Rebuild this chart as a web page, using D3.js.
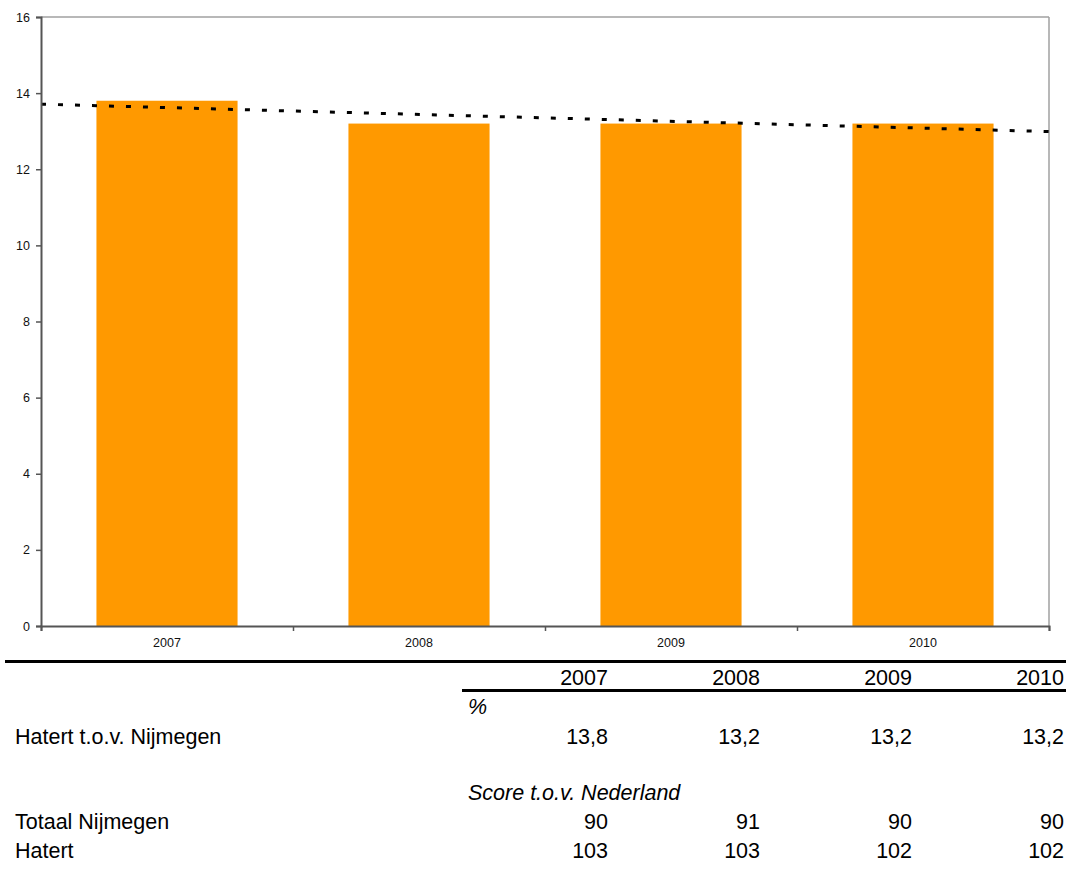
<!DOCTYPE html>
<html><head><meta charset="utf-8">
<script src="https://cdn.jsdelivr.net/npm/d3@7"></script>
<style>
body{margin:0;background:#fff;font-family:"Liberation Sans",Arial,sans-serif;}
svg{display:block;}
</style></head>
<body>
<svg id="c" width="1066" height="889"></svg>
<script>
const years = ["2007","2008","2009","2010"];
const values = [13.8,13.2,13.2,13.2];
const yTicks = [0,2,4,6,8,10,12,14,16];
const rowLabels = ["Hatert t.o.v. Nijmegen","Totaal Nijmegen","Hatert"];
const pctRow = ["13,8","13,2","13,2","13,2"];
const totaalRow = ["90","91","90","90"];
const hatertRow = ["103","103","102","102"];

const svg = d3.select("#c");
const m = {l:41, r:1049, t:17, b:626};
const x = d3.scaleBand().domain(years).range([m.l, m.r]).paddingInner(0.44).paddingOuter(0.22);
const xb = d3.scaleLinear().domain([0.5, 4.5]).range([m.l, m.r]);
const y = d3.scaleLinear().domain([0,16]).range([m.b, m.t]);

// border top/right
svg.append("line").attr("x1",m.l).attr("x2",m.r).attr("y1",m.t).attr("y2",m.t).attr("stroke","#a0a0a0").attr("stroke-width",1.5);
svg.append("line").attr("x1",m.r).attr("x2",m.r).attr("y1",m.t).attr("y2",m.b).attr("stroke","#a0a0a0").attr("stroke-width",1.5);

// bars
svg.selectAll("rect.bar").data(values).join("rect").attr("class","bar")
  .attr("x",(d,i)=>x(years[i])).attr("width",x.bandwidth())
  .attr("y",d=>y(d)).attr("height",d=>y(0)-y(d)).attr("fill","#FF9900");

// trend line (linear regression of values)
const xs = values.map((d,i)=>i+1);
const mx = d3.mean(xs), my = d3.mean(values);
const slope = d3.sum(xs.map((xi,i)=>(xi-mx)*(values[i]-my)))/d3.sum(xs.map(xi=>(xi-mx)**2));
const icpt = my - slope*mx;
svg.append("line").attr("x1",xb(0.5)).attr("x2",xb(4.5))
  .attr("y1",y(icpt+slope*0.5)).attr("y2",y(icpt+slope*4.5))
  .attr("stroke","#000").attr("stroke-width",3).attr("stroke-dasharray","5,12");

// y axis
const ya = svg.append("g").attr("transform",`translate(${m.l},0)`)
  .call(d3.axisLeft(y).tickValues(yTicks).tickSize(5).tickPadding(6));
ya.select(".domain").attr("stroke","#555").attr("stroke-width",2);
ya.selectAll(".tick line").attr("stroke","#555").attr("stroke-width",1.5);
ya.selectAll("text").attr("font-family","Liberation Sans, Arial, sans-serif").attr("font-size",12.5).attr("fill","#111");

// x axis
const xa = svg.append("g").attr("transform",`translate(0,${m.b})`)
  .call(d3.axisBottom(xb).tickValues([0.5,1.5,2.5,3.5,4.5]).tickSize(5).tickFormat(""));
xa.select(".domain").attr("stroke","#555").attr("stroke-width",2);
xa.selectAll(".tick line").attr("stroke","#555").attr("stroke-width",1.5);
svg.append("g").selectAll("text").data(years).join("text")
  .attr("x",d=>x(d)+x.bandwidth()/2).attr("y",647).attr("text-anchor","middle")
  .attr("font-size",12.5).attr("fill","#111").text(d=>d);

// table
const colX = [608,760,912,1064];
const fs = 21.5;
svg.append("line").attr("x1",5).attr("x2",1066).attr("y1",661.5).attr("y2",661.5).attr("stroke","#000").attr("stroke-width",3);
svg.append("line").attr("x1",462).attr("x2",1066).attr("y1",690.5).attr("y2",690.5).attr("stroke","#000").attr("stroke-width",3);
function row(vals, yy){
  svg.append("g").selectAll("text").data(vals).join("text")
    .attr("x",(d,i)=>colX[i]).attr("y",yy).attr("text-anchor","end")
    .attr("font-size",fs).attr("fill","#000").text(d=>d);
}
row(years, 685);
svg.append("text").attr("x",468).attr("y",714).attr("font-size",fs).attr("font-style","italic").text("%");
svg.append("text").attr("x",15).attr("y",744).attr("font-size",fs).text(rowLabels[0]);
row(pctRow, 744);
svg.append("text").attr("x",468).attr("y",800).attr("font-size",fs).attr("font-style","italic").text("Score t.o.v. Nederland");
svg.append("text").attr("x",15).attr("y",829).attr("font-size",fs).text(rowLabels[1]);
row(totaalRow, 829);
svg.append("text").attr("x",15).attr("y",858).attr("font-size",fs).text(rowLabels[2]);
row(hatertRow, 858);
</script>
</body></html>
